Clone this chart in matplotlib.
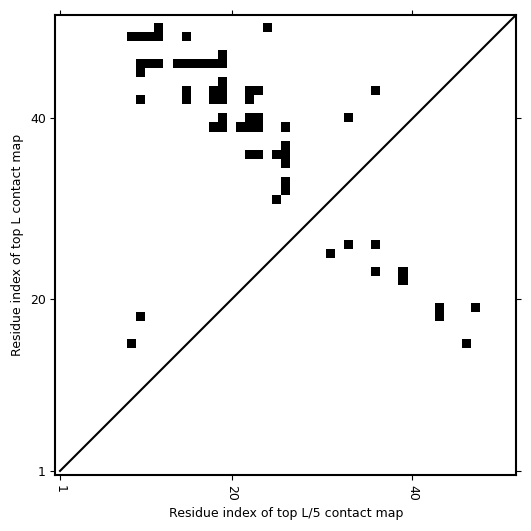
import numpy as np
import matplotlib
matplotlib.use("Agg")
import matplotlib.pyplot as plt

L = 51

# contact cells (residue i on x, residue j on y), 1-based
contact_i = [9, 10, 11, 12, 12, 15, 24,
             10, 11, 12, 10,
             14, 15, 16, 17, 18, 19, 19,
             10, 15, 15,
             19, 18, 19, 18, 19,
             22, 23, 22,
             36,
             19, 18, 19,
             22, 23, 21, 22, 23,
             26, 33,
             22, 23,
             26, 25, 26, 26,
             26, 26, 25,
             31, 33, 36, 36, 39, 39,
             43, 43, 47, 46,
             10, 9]
contact_j = [49, 49, 49, 49, 50, 49, 50,
             46, 46, 46, 45,
             46, 46, 46, 46, 46, 46, 47,
             42, 43, 42,
             44, 43, 43, 42, 42,
             43, 43, 42,
             43,
             40, 39, 39,
             40, 40, 39, 39, 39,
             39, 40,
             36, 36,
             37, 36, 36, 35,
             33, 32, 31,
             25, 26, 26, 23, 23, 22,
             19, 18, 19, 15,
             18, 15]

tick_vals = [1, 20, 40]

cmap = np.zeros((L, L))
for i, j in zip(contact_i, contact_j):
    cmap[j - 1, i - 1] = 1

fig = plt.figure(figsize=(5.31, 5.31), dpi=100)
ax = fig.add_axes([0.1045, 0.1036, 0.868, 0.870])
ax.imshow(cmap, cmap="gray_r", origin="lower", interpolation="nearest",
          extent=(0.5, L + 0.5, 0.5, L + 0.5), vmin=0, vmax=1)
ax.plot([1, L + 0.5], [1, L + 0.5], color="black", lw=1.5)
ax.set_xlim(0.5, L + 0.5)
ax.set_ylim(0.5, L + 0.5)

ax.set_xticks(tick_vals)
ax.set_yticks(tick_vals)
ax.set_xticklabels([str(t) for t in tick_vals], rotation=270)
ax.tick_params(top=True, right=True, labelsize=9)
for s in ax.spines.values():
    s.set_linewidth(1.5)
ax.set_xlabel("Residue index of top L/5 contact map", fontsize=9)
ax.set_ylabel("Residue index of top L contact map", fontsize=9)

fig.savefig("out.png", dpi=100)
